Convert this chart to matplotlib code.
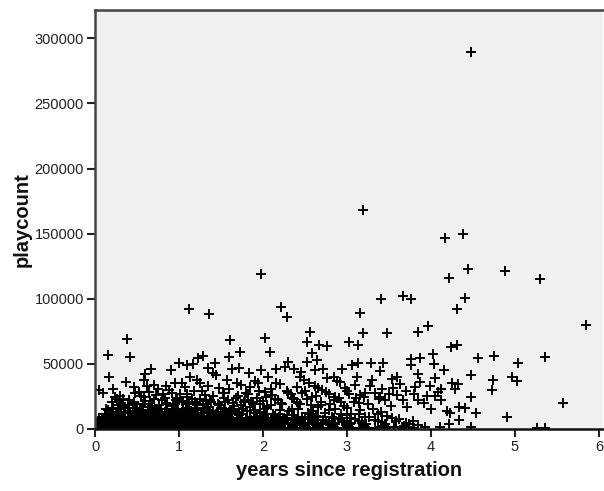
import matplotlib
matplotlib.use("Agg")
import matplotlib.pyplot as plt

plt.rcParams['font.family'] = ['Liberation Sans', 'DejaVu Sans']

# ---- sparse / outlying points (years since registration, playcount) ----
years_sparse = [4.48, 3.19, 4.17, 4.38, 1.98, 4.44, 4.21, 4.88, 5.30, 4.41, 4.31, 5.84, 3.96, 3.67,
                3.76, 3.41, 3.15, 2.21, 2.29, 1.12, 1.36, 3.84, 3.19, 3.48, 2.56, 2.02, 0.38, 1.61,
                2.52, 3.02, 2.67, 2.76, 3.13, 4.24, 4.31, 2.58, 2.08, 1.73, 0.15, 0.42, 1.28, 1.23,
                1.59, 4.02, 3.76, 3.87, 4.56, 4.75, 5.04, 5.36, 1.00, 1.09, 1.17, 1.43, 2.52, 2.64,
                2.30, 3.06, 3.13, 3.29, 3.43, 3.76, 4.04, 0.67, 0.90, 1.35, 1.63, 1.71, 2.26, 1.98,
                2.16, 2.37, 2.62, 2.72, 2.94, 3.39, 4.15, 1.83, 1.44, 0.17, 2.06, 3.12, 2.85, 2.44,
                3.59, 3.84, 4.48, 4.96, 1.13, 2.76, 4.05, 3.53, 0.58, 1.21, 1.57, 2.49, 4.74, 5.02,
                3.87, 0.37, 0.95, 1.04, 1.69, 2.16, 1.94, 4.25, 4.32, 0.62, 0.84, 1.35, 2.62, 3.27,
                3.99, 1.85, 3.81, 2.98, 4.12, 4.29, 4.73, 0.05, 0.52, 2.02, 0.10, 0.48, 2.30, 3.15,
                0.24, 2.86, 3.39, 4.48, 3.67, 3.84, 4.12, 5.57, 4.33, 4.40, 4.00, 4.19, 4.23, 4.54,
                4.90, 4.33, 4.21, 4.48, 4.11, 5.26, 5.36]
plays_sparse = [289500, 168000, 146300, 150100, 118700, 122500, 116000, 121200, 114800, 100200, 91800,
                79800, 78800, 102000, 99700, 99500, 88700, 93300, 86100, 92300, 88000, 74600, 73400,
                73400, 74600, 69600, 69000, 68300, 67000, 67000, 64400, 63700, 64400, 63100, 64400,
                58000, 58800, 59300, 56800, 55000, 56000, 54200, 55000, 57500, 53700, 54700, 54700,
                56000, 50400, 55000, 50400, 49100, 49600, 50900, 51600, 52900, 51600, 49100, 50400,
                50400, 50400, 49100, 49900, 46000, 45200, 46500, 45800, 46500, 47300, 45300, 45800,
                45800, 45300, 45800, 45800, 44700, 45300, 42700, 41400, 40100, 40100, 40100, 40100,
                40100, 40100, 41900, 41400, 40100, 39600, 38900, 38900, 38100, 37600, 37600, 37600,
                37600, 37600, 37000, 36300, 36000, 35000, 35000, 35000, 35000, 35000, 35000, 34500,
                33000, 33000, 33000, 33000, 33000, 33000, 32400, 32000, 31200, 30400, 30400, 29900,
                29900, 28600, 28600, 27400, 27400, 27400, 26100, 24800, 24800, 24800, 24800, 22200,
                22200, 22200, 19700, 17100, 15900, 15100, 14100, 12500, 12500, 9000, 6900, 3800,
                1800, 1800, 600, 600]

# ---- middle band (15000 - 45000) ----
years_mid = [0.20, 0.28, 0.33, 0.45, 0.55, 0.60, 0.68, 0.73, 0.80, 0.86, 0.92, 0.98, 1.05, 1.10,
             1.15, 1.22, 1.27, 1.32, 1.40, 1.46, 1.52, 1.58, 1.65, 1.70, 1.77, 1.82, 1.88, 1.93,
             2.00, 2.05, 2.11, 2.18, 2.23, 2.28, 2.34, 2.40, 2.46, 2.52, 2.57, 2.63, 2.69, 2.75,
             2.80, 2.90, 2.96, 3.02, 3.08, 3.20, 3.25, 3.33, 3.45, 3.52, 3.60, 3.72, 3.92, 4.05,
             3.55, 2.40, 1.60, 0.75, 1.95, 2.70, 0.40, 0.13,
             0.22, 0.30, 0.46, 0.64, 0.70, 0.81, 0.88, 1.01, 1.07, 1.18, 1.25, 1.31, 1.48, 1.54,
             1.74, 1.80, 1.90, 2.10, 2.20, 2.33, 2.50, 2.55, 2.66, 2.78, 2.88, 3.00, 3.10, 3.22,
             3.30, 3.42, 3.50, 3.63, 3.70, 3.80, 3.95, 4.08, 1.40, 0.60, 2.45, 2.92]
plays_mid = [21000, 18500, 23000, 19500, 25500, 21500, 17500, 26000, 22000, 19000, 28000, 24000,
             20500, 26500, 23000, 18500, 29000, 21500, 25000, 19000, 27500, 22500, 18000, 25500,
             21000, 27000, 19500, 24000, 21500, 17500, 26000, 22500, 19000, 29500, 24000, 20500,
             27500, 23000, 18500, 25500, 21000, 28500, 19500, 23500, 17500, 26500, 21000, 24500,
             19000, 28000, 22500, 18000, 26000, 17000, 20000, 25500, 31500, 32500, 31000, 30500,
             29000, 30000, 16000, 15500,
             30500, 25500, 32000, 28500, 34000, 27000, 30000, 26500, 32500, 29000, 35500, 26000,
             31500, 28000, 33500, 27500, 36500, 31000, 34500, 27000, 29500, 35000, 31500, 26500,
             37000, 29000, 33500, 27500, 38000, 30500, 26500, 34500, 29500, 27000, 25500, 28500,
             43000, 42000, 43500, 36000]

# ---- dense cluster near the x axis ----
years_dense = [
    0.31, 0.39, 0.47, 0.57, 0.65, 0.76, 0.84, 0.95, 1.03, 1.12, 1.19, 1.29, 1.38, 1.48, 1.55, 1.64,
    1.74, 1.86, 1.97, 2.09, 2.21, 2.44, 2.69, 2.93, 3.14,
    0.26, 0.41, 0.58, 0.70, 0.83, 0.96, 1.09, 1.25, 1.37, 1.53, 1.68, 1.79, 2.03, 2.14, 2.37, 2.58,
    2.85, 3.11, 3.38,
    0.22, 0.36, 0.50, 0.64, 0.78, 0.93, 1.08, 1.20, 1.35, 1.50, 1.66, 1.85, 2.05, 2.35, 2.65, 3.00,
    0.15, 0.27, 0.40, 0.48, 0.56, 0.68, 0.75, 0.86, 0.99, 1.11, 1.22, 1.30, 1.41, 1.53, 1.62, 1.76,
    1.90, 2.01, 2.20, 2.42, 2.60, 2.86, 3.15, 3.31,
    0.30, 0.42, 0.53, 0.62, 0.71, 0.79, 0.88, 0.97, 1.06, 1.14, 1.23, 1.33, 1.44, 1.56, 1.69, 1.81,
    1.96, 2.12, 2.31, 2.54, 2.78, 3.05, 3.41,
    0.25, 0.35, 0.45, 0.55, 0.66, 0.74, 0.83, 0.92, 1.01, 1.10, 1.18, 1.27, 1.37, 1.47, 1.59, 1.72,
    0.12, 0.21, 0.31, 0.39, 0.47, 0.55, 0.63, 0.70, 0.78, 0.86, 0.94, 1.02, 1.12, 1.21, 1.30, 1.40,
    1.51, 1.62, 1.75, 1.89, 2.04, 2.20, 2.37, 2.56, 2.74, 2.93, 3.14, 3.37,
    0.18, 0.26, 0.35, 0.44, 0.51, 0.58, 0.66, 0.74, 0.82, 0.90, 0.99, 1.08, 1.17, 1.26, 1.36, 1.47,
    1.58, 1.71, 1.84, 1.99, 2.14, 2.29, 2.46, 2.63, 2.82, 3.00, 3.22, 3.48,
    0.05, 0.12, 0.19, 0.26, 0.33, 0.40, 0.47, 0.54, 0.61, 0.68, 0.75, 0.83, 0.91, 0.98, 1.05, 1.13,
    1.21, 1.30, 1.39, 1.49, 1.60, 1.70, 1.81, 1.93, 2.06, 2.19, 2.34, 2.50, 2.66, 2.84, 3.03, 3.26,
    3.54,
    0.08, 0.15, 0.22, 0.29, 0.36, 0.43, 0.50, 0.56, 0.63, 0.70, 0.77, 0.84, 0.92, 1.00, 1.07, 1.15,
    1.24, 1.33, 1.42, 1.52, 1.63, 1.74, 1.86, 1.98, 2.11, 2.25, 2.39, 2.55, 2.72, 2.90, 3.10, 3.33,
    3.62,
    0.10, 0.19, 0.27, 0.34, 0.41, 0.48, 0.55, 0.61, 0.68, 0.74, 0.81, 0.88, 0.96, 1.04, 1.12, 1.20,
    1.29, 1.38, 1.48, 1.58, 1.69, 1.80, 1.92, 2.05, 2.19,
    0.03, 0.09, 0.16, 0.23, 0.30, 0.37, 0.44, 0.51, 0.58, 0.65, 0.72, 0.79, 0.86, 0.93, 1.01, 1.09,
    1.17, 1.26, 1.35, 1.44, 1.54, 1.64, 1.75, 1.87, 2.00, 2.13, 2.27, 2.42, 2.58, 2.75, 2.94, 3.14,
    3.37, 3.58, 3.78,
    0.04, 0.11, 0.18, 0.25, 0.32, 0.39, 0.46, 0.53, 0.60, 0.67, 0.74, 0.81, 0.88, 0.95, 1.03, 1.11,
    1.19, 1.28, 1.37, 1.46, 1.56, 1.66, 1.77, 1.89, 2.02, 2.16, 2.30, 2.45, 2.61, 2.78, 2.97, 3.18,
    3.42, 3.70,
    0.06, 0.14, 0.21, 0.28, 0.35, 0.42, 0.49, 0.56, 0.64, 0.71, 0.78, 0.86, 0.93, 1.01, 1.09, 1.17,
    1.26, 1.35, 1.45, 1.55, 1.66, 1.78, 1.91, 2.04, 2.18, 2.33, 2.49, 2.66, 2.85, 3.05,
    0.01, 0.07, 0.13, 0.19, 0.25, 0.31, 0.37, 0.44, 0.50, 0.57, 0.64, 0.71, 0.78, 0.85, 0.92, 1.00,
    1.08, 1.16, 1.25, 1.34, 1.43, 1.53, 1.63, 1.74, 1.85, 1.97, 2.10, 2.24, 2.38, 2.53, 2.69, 2.86,
    3.04, 3.23, 3.45, 3.74,
    0.05, 0.11, 0.17, 0.23, 0.29, 0.35, 0.42, 0.48, 0.55, 0.62, 0.69, 0.76, 0.83, 0.90, 0.98, 1.06,
    1.14, 1.22, 1.31, 1.40, 1.50, 1.60, 1.71, 1.82, 1.94, 2.07, 2.21, 2.35, 2.50, 2.66, 2.83, 3.01,
    3.19,
    0.02, 0.08, 0.14, 0.21, 0.27, 0.34, 0.41, 0.47, 0.54, 0.61, 0.68, 0.75, 0.82, 0.89, 0.97, 1.05,
    1.13, 1.21, 1.30, 1.39, 1.49, 1.59, 1.70, 1.81, 1.93, 2.06, 2.20, 2.34, 2.49, 2.65, 2.82, 3.00,
    3.20, 3.44, 3.68, 3.85,
    0.03, 0.09, 0.16, 0.22, 0.29, 0.36, 0.42, 0.49, 0.56, 0.63, 0.70, 0.77, 0.84, 0.91, 0.99, 1.07,
    1.15, 1.23, 1.32, 1.41, 1.51, 1.61, 1.72, 1.83, 1.95, 2.08, 2.22, 2.36, 2.51, 2.67, 2.84, 3.02,
    3.22, 3.40, 3.56, 3.74, 3.93,
    0.04, 0.10, 0.15, 0.21, 0.27, 0.33, 0.40, 0.46, 0.53, 0.60, 0.67, 0.74, 0.81, 0.88, 0.96, 1.04,
    1.12, 1.20, 1.29, 1.38, 1.47, 1.57, 1.68, 1.79, 1.90, 2.02, 2.16, 2.30, 2.45, 2.60, 2.77, 2.95,
    3.14, 3.33,
    0.01, 0.06, 0.12, 0.18, 0.24, 0.31, 0.38, 0.44, 0.51, 0.58, 0.65, 0.72, 0.79, 0.86, 0.94, 1.02,
    1.10, 1.18, 1.27, 1.36, 1.45, 1.55, 1.65, 1.76, 1.87, 1.99, 2.12, 2.26, 2.40, 2.55, 2.71, 2.88,
    3.06, 3.25, 3.46, 3.66, 3.80]
plays_dense = [
    19800, 18200, 20600, 19000, 21300, 18600, 20100, 19400, 21800, 18900, 20400, 19200, 21000, 18400,
    20700, 19600, 18100, 20900, 19300, 18700, 20200, 19100, 18300, 20500, 19700,
    23400, 22100, 24200, 22800, 23900, 22400, 24600, 23100, 22300, 24000, 23600, 22200, 24400, 22700,
    23300, 24800, 22600, 23800, 22900,
    16000, 17200, 15600, 16800, 15300, 17500, 16100, 15800, 17000, 16300, 15500, 16900, 16200, 15700,
    17100, 16400,
    14800, 15300, 14200, 15800, 14500, 15100, 14000, 15600, 14300, 15400, 14700, 15900, 14100, 15200,
    14600, 15500, 14400, 15000, 14900, 15700, 14200, 15300, 14600, 15100,
    13000, 12200, 14500, 11800, 13600, 15000, 12400, 14000, 11500, 13800, 12600, 14700, 11900, 13300,
    12000, 14200, 12800, 11600, 13500, 12300, 14400, 11700, 12900,
    12800, 13200, 12600, 13500, 12900, 13100, 12700, 13400, 12500, 13000, 13300, 12600, 13200, 12800,
    13100, 12700,
    11300, 11900, 11100, 12100, 11600, 11200, 12000, 11400, 11800, 11000, 12200, 11500, 11700, 11100,
    12000, 11300, 11900, 11600, 11200, 12100, 11400, 11800, 11000, 11600, 12200, 11300, 11700, 11500,
    9800, 10600, 9200, 10900, 9500, 10300, 9000, 11000, 9700, 10400, 9300, 10800, 9900, 10100, 9400,
    10700, 9600, 10500, 9100, 10200, 9800, 10600, 9300, 10000, 9500, 10800, 9200, 10300,
    8600, 9000, 8400, 8900, 8700, 9100, 8500, 8800, 9200, 8600, 8900, 8300, 9000, 8700, 9100, 8500,
    8800, 8400, 9000, 8600, 9200, 8700, 8500, 8900, 8300, 9100, 8600, 8800, 9000, 8400, 8700, 8900,
    8500,
    7200, 7800, 7400, 8100, 7000, 7700, 7300, 8000, 7100, 7600, 7900, 7200, 7500, 8200, 6900, 7700,
    7300, 8000, 7100, 7600, 7400, 7900, 7000, 7700, 7200, 8100, 7300, 7800, 7000, 7500, 7900, 7200,
    7600,
    6900, 7000, 6800, 7050, 6850, 6950, 7100, 6800, 7000, 6900, 7050, 6850, 6950, 7100, 6800, 7000,
    6900, 7050, 6850, 6950, 7000, 6800, 7100, 6900, 7000,
    6100, 6400, 5900, 6500, 6000, 6300, 6600, 6200, 5800, 6400, 6100, 6500, 5900, 6300, 6000, 6600,
    6200, 6400, 5800, 6300, 6100, 6500, 6000, 6200, 6400, 5900, 6600, 6100, 6300, 6000, 6500, 6200,
    5900, 6400, 6100,
    4800, 5300, 4600, 5500, 4900, 5200, 4700, 5400, 5000, 4600, 5300, 4800, 5500, 4900, 5100, 4700,
    5400, 5000, 4800, 5200, 4600, 5300, 4900, 5100, 4700, 5400, 4800, 5200, 5000, 4600, 5300, 4900,
    5100, 4700,
    4400, 4300, 4500, 4350, 4450, 4250, 4400, 4500, 4300, 4450, 4350, 4400, 4250, 4500, 4300, 4400,
    4450, 4350, 4250, 4500, 4400, 4300, 4450, 4350, 4400, 4500, 4250, 4400, 4300, 4450,
    3700, 3900, 3600, 4000, 3800, 3500, 3900, 3700, 4100, 3600, 3800, 4000, 3500, 3900, 3700, 3800,
    4100, 3600, 3900, 3700, 4000, 3500, 3800, 3900, 3600, 4100, 3700, 3800, 4000, 3600, 3900, 3500,
    3800, 4000, 3700, 3600,
    3100, 3200, 3000, 3250, 3050, 3150, 3300, 3000, 3200, 3100, 3250, 3050, 3150, 3000, 3300, 3100,
    3200, 3050, 3150, 3250, 3000, 3100, 3200, 3050, 3300, 3150, 3000, 3200, 3100, 3250, 3050, 3150,
    3100,
    2300, 2800, 2100, 2600, 2900, 2200, 2500, 2700, 2000, 2400, 2800, 2300, 2600, 2100, 2900, 2400,
    2200, 2700, 2500, 2300, 2800, 2000, 2600, 2400, 2200, 2700, 2500, 2900, 2100, 2600, 2300, 2800,
    2400, 2200, 2500, 2700,
    1400, 1700, 1200, 1600, 1500, 1300, 1800, 1400, 1600, 1200, 1700, 1500, 1300, 1800, 1400, 1600,
    1200, 1500, 1700, 1300, 1600, 1400, 1800, 1200, 1500, 1700, 1300, 1600, 1400, 1800, 1200, 1500,
    1700, 1300, 1600, 1400, 1500,
    1000, 1100, 900, 1050, 950, 1150, 1000, 900, 1100, 1050, 950, 1000, 1150, 900, 1050, 1000,
    1100, 950, 1000, 1150, 900, 1050, 1100, 950, 1000, 1100, 900, 1050, 1000, 950, 1150, 1000,
    900, 1050,
    500, 800, 300, 700, 600, 900, 400, 700, 500, 800, 300, 600, 900, 500, 700, 400,
    800, 600, 300, 700, 500, 900, 400, 600, 800, 500, 700, 300, 600, 900, 400, 700,
    500, 800, 600, 400, 700]

x_ticks = [0, 1, 2, 3, 4, 5, 6]
y_ticks = [0, 50000, 100000, 150000, 200000, 250000, 300000]

W, H = 604, 491
fig = plt.figure(figsize=(W / 100, H / 100), dpi=100)
ax = fig.add_axes([95 / W, 62 / H, (603 - 95) / W, (429 - 10) / H])
ax.set_facecolor('#f0f0f0')

for xs, ys in [(years_dense, plays_dense), (years_mid, plays_mid), (years_sparse, plays_sparse)]:
    ax.plot(xs, ys, linestyle='none', marker='+', markersize=7.5, markeredgewidth=1.4,
            color='black')

ax.set_xlim(0, 6.048)
ax.set_ylim(0, 321700)
ax.set_xticks(x_ticks)
ax.set_xticklabels([str(v) for v in x_ticks])
ax.set_yticks(y_ticks)
ax.set_yticklabels([str(v) for v in y_ticks])
ax.tick_params(direction='out', length=6, width=1.5, labelsize=10.5, colors='#222222', pad=2)

for s in ['left', 'top']:
    ax.spines[s].set_color('#444444')
    ax.spines[s].set_linewidth(1.8)
ax.spines['bottom'].set_color('#111111')
ax.spines['bottom'].set_linewidth(1.8)
ax.spines['right'].set_visible(False)

ax.set_xlabel('years since registration', fontsize=14.5, fontweight='bold', color='#111111',
              labelpad=5)
ax.set_ylabel('playcount', fontsize=14.5, fontweight='bold', color='#111111', labelpad=2)

fig.savefig('out.png', dpi=100)
